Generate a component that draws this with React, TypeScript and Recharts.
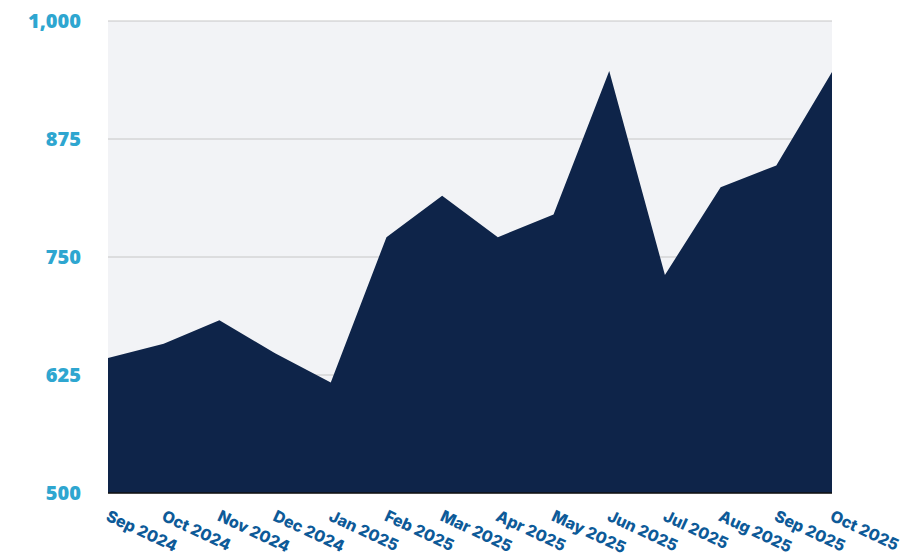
import React from 'react';
import { AreaChart, Area, XAxis, YAxis, CartesianGrid } from 'recharts';

const months = [
  'Sep 2024', 'Oct 2024', 'Nov 2024', 'Dec 2024', 'Jan 2025', 'Feb 2025', 'Mar 2025',
  'Apr 2025', 'May 2025', 'Jun 2025', 'Jul 2025', 'Aug 2025', 'Sep 2025', 'Oct 2025',
];
const values = [643, 658, 683, 648, 617, 771, 815, 771, 795, 947, 731, 824, 847, 946];
const yTicks = [500, 625, 750, 875, 1000];

const data = months.map((month, i) => ({ month, value: values[i] }));

const MonthTick = (props: any) => {
  const { x, y, payload } = props;
  return (
    <g transform={`translate(${x - 3},${y + 19})`}>
      <text
        transform="rotate(25)"
        textAnchor="start"
        fill="#0d5a98"
        fontFamily="Inter, 'Open Sans', sans-serif"
        fontWeight={800}
        fontSize={16}
      >
        {payload.value}
      </text>
    </g>
  );
};

const App: React.FC = () => {
  return (
    <AreaChart
      width={896}
      height={550}
      data={data}
      margin={{ top: 13, right: 72, bottom: 5, left: 0 }}
    >
      <CartesianGrid vertical={false} stroke="#c6c6c6" fill="#f2f3f6" />
      <XAxis
        dataKey="month"
        interval={0}
        height={60}
        tickLine={false}
        axisLine={{ stroke: '#111', strokeWidth: 1.5 }}
        tick={<MonthTick />}
      />
      <YAxis
        domain={[500, 1000]}
        ticks={yTicks}
        width={100}
        axisLine={false}
        tickLine={false}
        tickSize={0}
        tickMargin={27}
        tickFormatter={(v: number) => v.toLocaleString('en-US')}
        tick={{ fill: '#2ea6d0', fontSize: 20, fontWeight: 800, fontFamily: "'Open Sans', sans-serif" }}
      />
      <Area
        type="linear"
        dataKey="value"
        stroke="none"
        fill="#0e2449"
        fillOpacity={1}
        baseValue={500}
        isAnimationActive={false}
      />
    </AreaChart>
  );
};

export default App;
